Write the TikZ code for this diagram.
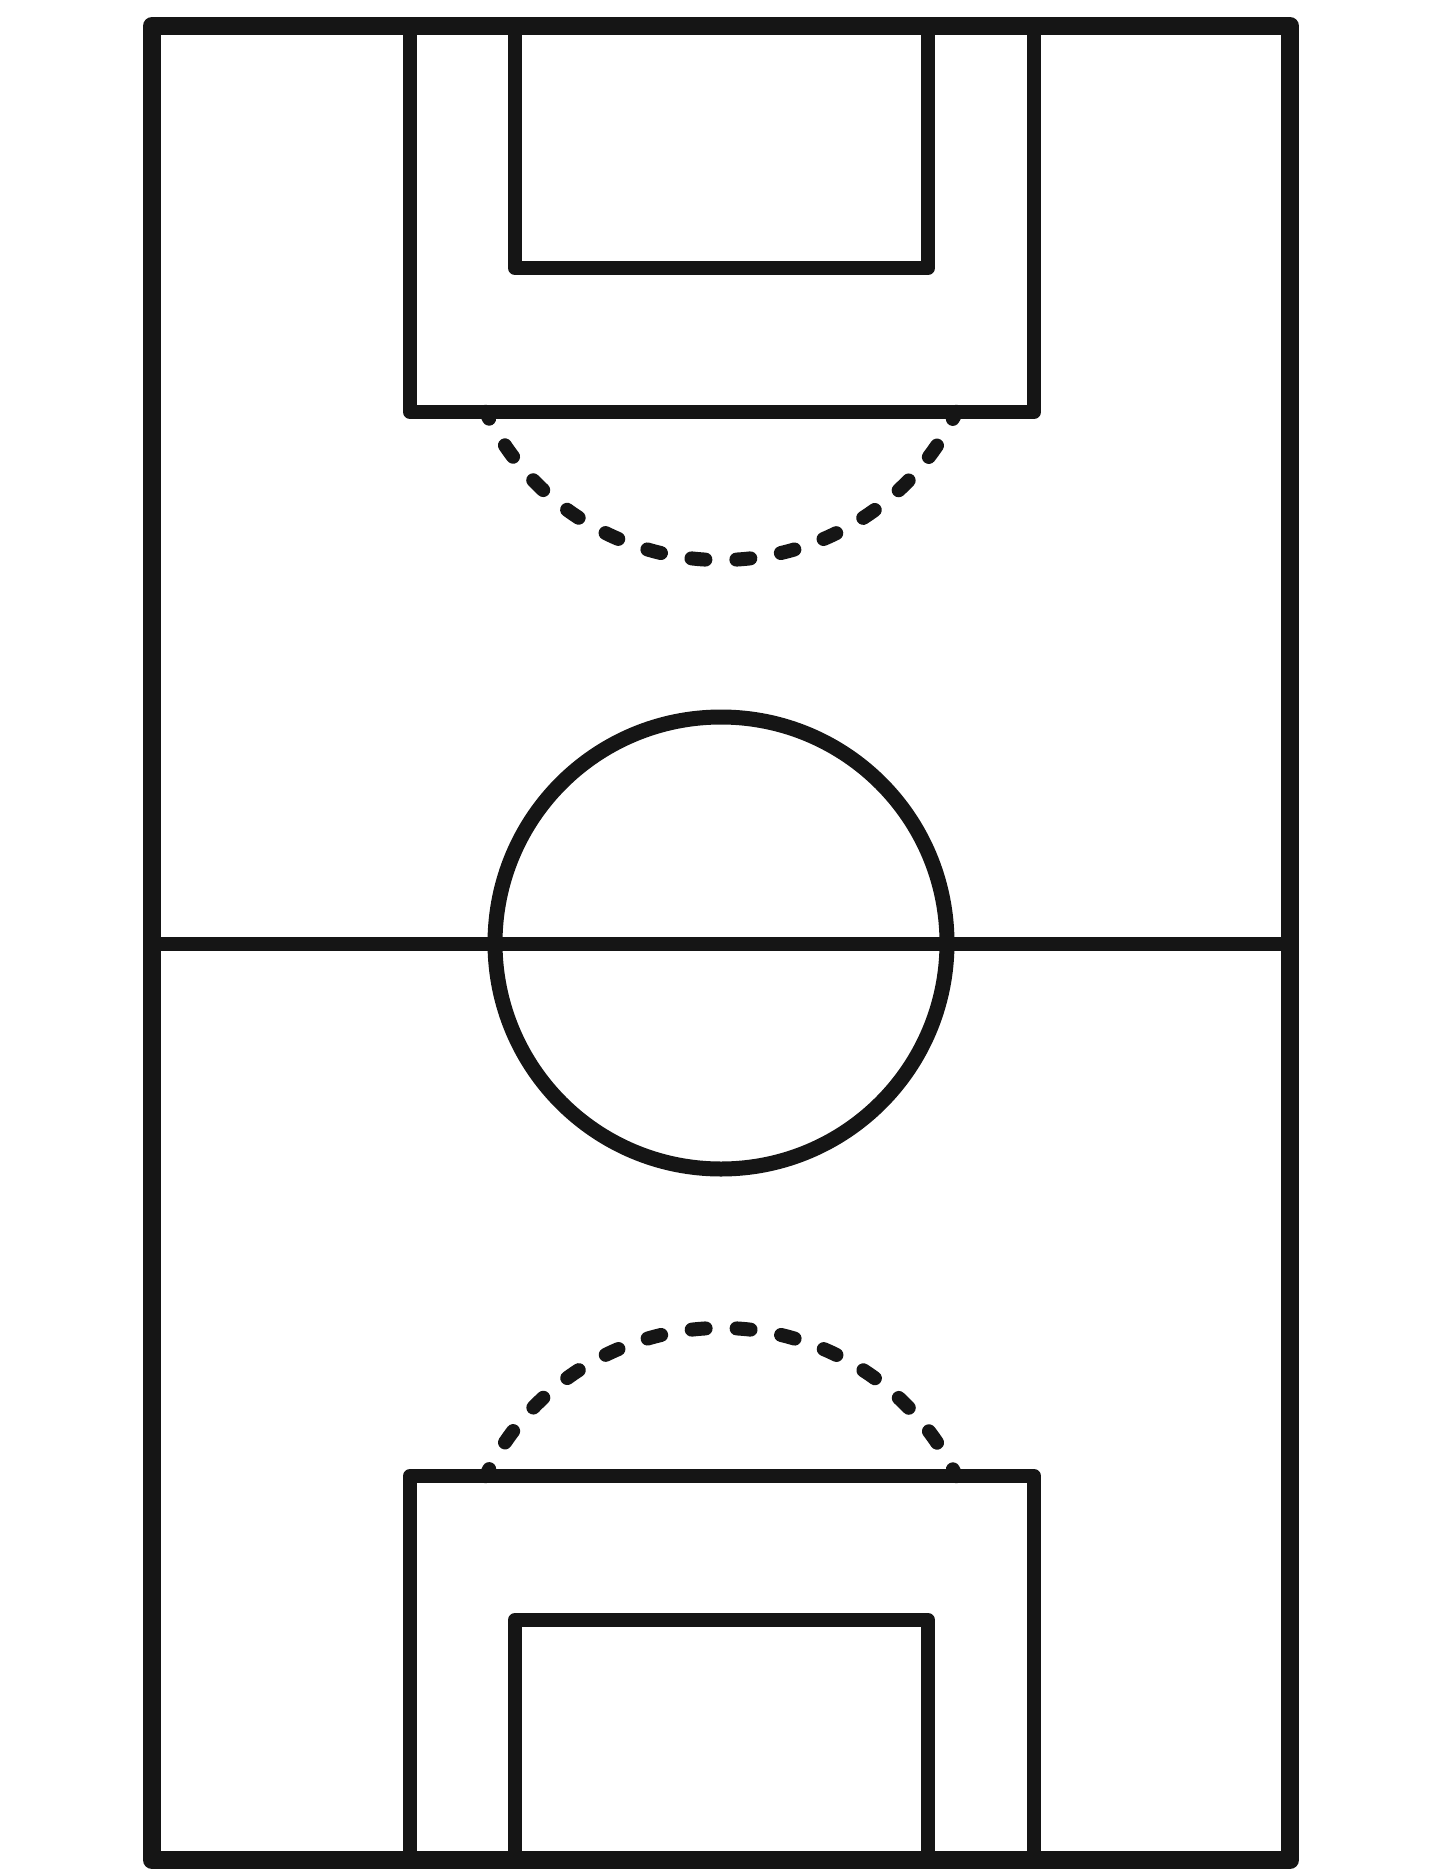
\documentclass[tikz,border=0pt]{standalone}
\usepackage{xcolor}
\usepackage{tikz}
\definecolor{bg}{HTML}{FFFFFF}
\definecolor{ink}{HTML}{151515}
\tikzset{
  touch/.style={draw=ink, line width=18pt, line cap=round, line join=round},
  box/.style={draw=ink, line width=14pt, line cap=round, line join=round},
  ring/.style={draw=ink, line width=15pt},
  arcdash/.style={draw=ink, line width=14pt, line cap=round,
    dash pattern=on 14pt off 31pt, dash phase=6pt},
}

\begin{document}
\begin{tikzpicture}[x=1pt, y=-1pt]
  \useasboundingbox[fill=bg] (0,0) rectangle (1436,1870);
  % pitch outline
  \coordinate (NW) at (152,26);
  \coordinate (NE) at (1290,26);
  \coordinate (SE) at (1290,1860);
  \coordinate (SW) at (152,1860);
  \coordinate (O) at (721,943);
  \draw[touch] (NW)--(NE)--(SE)--(SW)--cycle;
  % halfway line and centre circle
  \draw[box] (152,944)--(1290,944);
  \draw[ring] (O) circle[radius=226];
  % top end
  \draw[box] (410,26)--(410,412)--(1034,412)--(1034,26);
  \draw[box] (515,26)--(515,268)--(928,268)--(928,26);
  \draw[arcdash] (721,299) ++(25.6:261) arc[start angle=25.6, end angle=154.4, radius=261];
  % bottom end
  \draw[box] (410,1860)--(410,1476)--(1034,1476)--(1034,1860);
  \draw[box] (515,1860)--(515,1620)--(928,1620)--(928,1860);
  \draw[arcdash] (721,1589) ++(205.6:261) arc[start angle=205.6, end angle=334.4, radius=261];
\end{tikzpicture}
\end{document}
